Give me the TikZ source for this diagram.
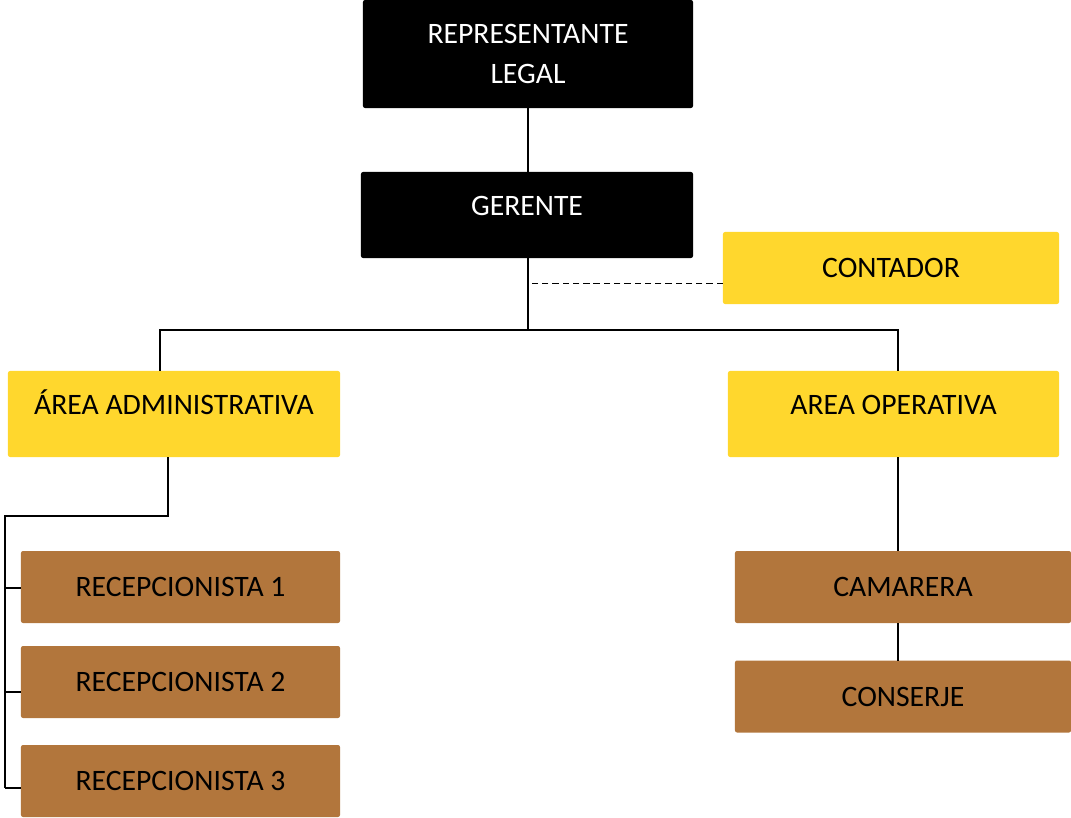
\documentclass[tikz,border=0pt]{standalone}
\usepackage{fontspec}
\setmainfont{Carlito}
\usetikzlibrary{calc}
\definecolor{amarillo}{HTML}{FFD72D}
\definecolor{cafe}{HTML}{B2763C}

\begin{document}
\begin{tikzpicture}[
     x=0.025cm, y=-0.025cm,
     box/.style={rectangle,rounded corners=1.5pt,inner sep=0pt,outer sep=0pt,
       font=\fontsize{21.1}{28.5}\selectfont},
     caps/.style={text height=13.6pt,text depth=0pt},
     jefe/.style={box,fill=black,text=white},
     area/.style={box,caps,fill=amarillo},
     cargo/.style={box,caps,fill=cafe,minimum height=1.8cm},
     arriba/.style={text depth=13pt},
     linea/.style={line width=1.2pt}
   ]
   \path[use as bounding box] (0,0) rectangle (1071,817);
   % Boxes.
   \node[jefe,minimum width=8.25cm,minimum height=2.7cm,align=center] (rep) at (528,54) {REPRESENTANTE\\LEGAL};
   \node[jefe,caps,arriba,minimum width=8.3cm,minimum height=2.15cm] (ger) at (527,215) {GERENTE};
   \node[area,minimum width=8.4cm,minimum height=1.8cm] (cont) at (891,268) {CONTADOR};
   \node[area,arriba,minimum width=8.3cm,minimum height=2.15cm] (adm) at (174,414) {ÁREA ADMINISTRATIVA};
   \node[area,arriba,minimum width=8.275cm,minimum height=2.15cm] (ope) at (893.5,414) {AREA OPERATIVA};
   \node[cargo,minimum width=7.975cm] (rec1) at (180.5,587) {RECEPCIONISTA 1};
   \node[cargo,minimum width=7.975cm] (rec2) at (180.5,682) {RECEPCIONISTA 2};
   \node[cargo,minimum width=7.975cm] (rec3) at (180.5,781) {RECEPCIONISTA 3};
   \node[cargo,minimum width=8.4cm] (cam) at (903,587) {CAMARERA};
   \node[cargo,minimum width=8.4cm] (con) at (903,696.5) {CONSERJE};
   % Lines.
   \coordinate (bus) at (528,330);
   \coordinate (dash) at ([yshift=-0.385cm]cont.west);
   \coordinate (rail) at (5,516);
   \coordinate (opeb) at ([xshift=0.1125cm]ope.south);
   \draw[linea] (rep) -- (rep |- ger.north);
   \draw[linea] (bus |- ger.south) -- (bus);
   \draw[linea,dash pattern=on 4.5pt off 2.8pt] (dash) -- (dash -| bus);
   \draw[linea] ([xshift=-0.35cm]adm.north) |- (bus) -| ([xshift=0.1125cm]ope.north);
   \draw[linea] ([xshift=-0.15cm]adm.south) |- (rail) -- ++(0,272);
   \foreach \n/\d in {rec1/-0.025,rec2/-0.25,rec3/-0.175}
     \draw[linea] ([yshift=\d cm]\n.west) -- ++(-0.4cm,0);
   \draw[linea] (opeb) -- (opeb |- cam.north);
   \draw[linea] (opeb |- cam.south) -- (opeb |- con.north);
\end{tikzpicture}
\end{document}
